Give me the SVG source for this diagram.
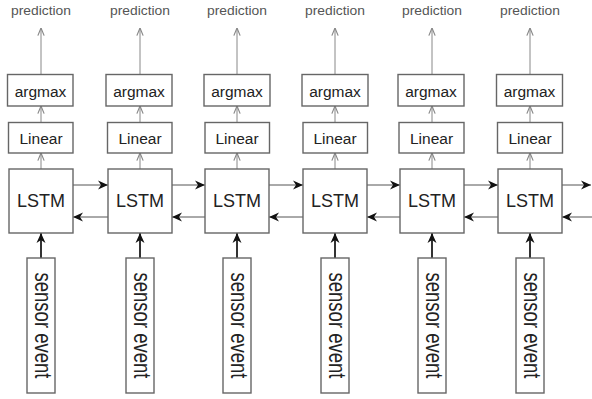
<svg xmlns="http://www.w3.org/2000/svg" width="592" height="399" viewBox="0 0 592 399">
<style>
.box{fill:#fff;stroke:#666;stroke-width:1.4}
.t{font-family:"Liberation Sans",Arial,sans-serif;fill:#222;text-anchor:middle}
.lstm{font-size:18px}
.mid{font-size:15.5px}
.pred{font-size:12.5px;fill:#555}
.sens{font-size:18.5px}
.up{stroke:#888;stroke-width:1;fill:none;marker-end:url(#op)}
.h{stroke:#555;stroke-width:1;fill:none;marker-end:url(#cl)}
.in{stroke:#333;stroke-width:2;fill:none;marker-end:url(#cl2)}
</style>
<defs>
<marker id="op" viewBox="0 0 10 10" refX="9.5" refY="5" markerWidth="9" markerHeight="9" markerUnits="userSpaceOnUse" orient="auto"><path d="M1,1.5 L9.5,5 L1,8.5" fill="none" stroke="#888" stroke-width="1.3"/></marker>
<marker id="cl" viewBox="0 0 10 10" refX="10" refY="5" markerWidth="10" markerHeight="10" markerUnits="userSpaceOnUse" orient="auto"><path d="M0,0.5 L10,5 L0,9.5 L3,5 z" fill="#111"/></marker>
<marker id="cl2" viewBox="0 0 10 10" refX="10" refY="5" markerWidth="10" markerHeight="10" markerUnits="userSpaceOnUse" orient="auto"><path d="M0,0.5 L10,5 L0,9.5 L3,5 z" fill="#111"/></marker>
</defs>
<rect width="592" height="399" fill="#fff"/>

<g id="connectors">
<path class="up" d="M41,169 V153"/><path class="up" d="M41,122 V106"/><path class="up" d="M41,74 V28"/><path class="in" d="M41,258 V233"/>
<path class="up" d="M140,169 V153"/><path class="up" d="M140,122 V106"/><path class="up" d="M140,74 V28"/><path class="in" d="M140,258 V233"/>
<path class="up" d="M237,169 V153"/><path class="up" d="M237,122 V106"/><path class="up" d="M237,74 V28"/><path class="in" d="M237,258 V233"/>
<path class="up" d="M335,169 V153"/><path class="up" d="M335,122 V106"/><path class="up" d="M335,74 V28"/><path class="in" d="M335,258 V233"/>
<path class="up" d="M432,169 V153"/><path class="up" d="M432,122 V106"/><path class="up" d="M432,74 V28"/><path class="in" d="M432,258 V233"/>
<path class="up" d="M530,169 V153"/><path class="up" d="M530,122 V106"/><path class="up" d="M530,74 V28"/><path class="in" d="M530,258 V233"/>
<path class="h" d="M73,185 H108"/><path class="h" d="M108,217 H73"/>
<path class="h" d="M172,185 H205"/><path class="h" d="M205,217 H172"/>
<path class="h" d="M269,185 H303"/><path class="h" d="M303,217 H269"/>
<path class="h" d="M367,185 H400"/><path class="h" d="M400,217 H367"/>
<path class="h" d="M464,185 H498"/><path class="h" d="M498,217 H464"/>
<path class="h" d="M562,185 H591"/><path class="h" d="M592,217 H562"/>
</g>

<g id="pred1"><text class="t pred" x="41" y="15" textLength="60" lengthAdjust="spacingAndGlyphs">prediction</text></g>
<g id="pred2"><text class="t pred" x="140" y="15" textLength="60" lengthAdjust="spacingAndGlyphs">prediction</text></g>
<g id="pred3"><text class="t pred" x="237" y="15" textLength="60" lengthAdjust="spacingAndGlyphs">prediction</text></g>
<g id="pred4"><text class="t pred" x="335" y="15" textLength="60" lengthAdjust="spacingAndGlyphs">prediction</text></g>
<g id="pred5"><text class="t pred" x="432" y="15" textLength="60" lengthAdjust="spacingAndGlyphs">prediction</text></g>
<g id="pred6"><text class="t pred" x="530" y="15" textLength="60" lengthAdjust="spacingAndGlyphs">prediction</text></g>

<g id="argmax1"><rect class="box" x="7.5" y="74.5" width="65.5" height="31.5"/><text class="t mid" x="40.5" y="96.5">argmax</text></g>
<g id="argmax2"><rect class="box" x="106" y="74.5" width="66" height="31.5"/><text class="t mid" x="139" y="96.5">argmax</text></g>
<g id="argmax3"><rect class="box" x="204" y="74.5" width="66" height="31.5"/><text class="t mid" x="237" y="96.5">argmax</text></g>
<g id="argmax4"><rect class="box" x="302" y="74.5" width="66" height="31.5"/><text class="t mid" x="335" y="96.5">argmax</text></g>
<g id="argmax5"><rect class="box" x="398" y="74.5" width="66" height="31.5"/><text class="t mid" x="431" y="96.5">argmax</text></g>
<g id="argmax6"><rect class="box" x="496.5" y="74.5" width="66" height="31.5"/><text class="t mid" x="529.5" y="96.5">argmax</text></g>

<g id="linear1"><rect class="box" x="8.5" y="122.5" width="64.5" height="30.5"/><text class="t mid" x="41" y="143.5">Linear</text></g>
<g id="linear2"><rect class="box" x="107.5" y="122.5" width="64.5" height="30.5"/><text class="t mid" x="140" y="143.5">Linear</text></g>
<g id="linear3"><rect class="box" x="205" y="122.5" width="64.5" height="30.5"/><text class="t mid" x="237" y="143.5">Linear</text></g>
<g id="linear4"><rect class="box" x="303" y="122.5" width="64.5" height="30.5"/><text class="t mid" x="335" y="143.5">Linear</text></g>
<g id="linear5"><rect class="box" x="399" y="122.5" width="65" height="30.5"/><text class="t mid" x="431.5" y="143.5">Linear</text></g>
<g id="linear6"><rect class="box" x="497.5" y="122.5" width="65" height="30.5"/><text class="t mid" x="530" y="143.5">Linear</text></g>

<g id="lstm1"><rect class="box" x="9" y="169" width="64" height="64"/><text class="t lstm" x="41" y="207">LSTM</text></g>
<g id="lstm2"><rect class="box" x="108" y="169" width="64" height="64"/><text class="t lstm" x="140" y="207">LSTM</text></g>
<g id="lstm3"><rect class="box" x="205" y="169" width="64" height="64"/><text class="t lstm" x="237" y="207">LSTM</text></g>
<g id="lstm4"><rect class="box" x="303" y="169" width="64" height="64"/><text class="t lstm" x="335" y="207">LSTM</text></g>
<g id="lstm5"><rect class="box" x="400" y="169" width="64" height="64"/><text class="t lstm" x="432" y="207">LSTM</text></g>
<g id="lstm6"><rect class="box" x="498" y="169" width="64" height="64"/><text class="t lstm" x="530" y="207">LSTM</text></g>

<g id="sensor1"><rect class="box" x="27" y="258" width="28" height="135"/><text class="t sens" transform="translate(34.5,325.5) rotate(90) scale(1,1.25)">sensor event</text></g>
<g id="sensor2"><rect class="box" x="126" y="258" width="28" height="135"/><text class="t sens" transform="translate(133.5,325.5) rotate(90) scale(1,1.25)">sensor event</text></g>
<g id="sensor3"><rect class="box" x="223" y="258" width="28" height="135"/><text class="t sens" transform="translate(230.5,325.5) rotate(90) scale(1,1.25)">sensor event</text></g>
<g id="sensor4"><rect class="box" x="321" y="258" width="28" height="135"/><text class="t sens" transform="translate(328.5,325.5) rotate(90) scale(1,1.25)">sensor event</text></g>
<g id="sensor5"><rect class="box" x="418" y="258" width="28" height="135"/><text class="t sens" transform="translate(425.5,325.5) rotate(90) scale(1,1.25)">sensor event</text></g>
<g id="sensor6"><rect class="box" x="516" y="258" width="28" height="135"/><text class="t sens" transform="translate(523.5,325.5) rotate(90) scale(1,1.25)">sensor event</text></g>
</svg>
